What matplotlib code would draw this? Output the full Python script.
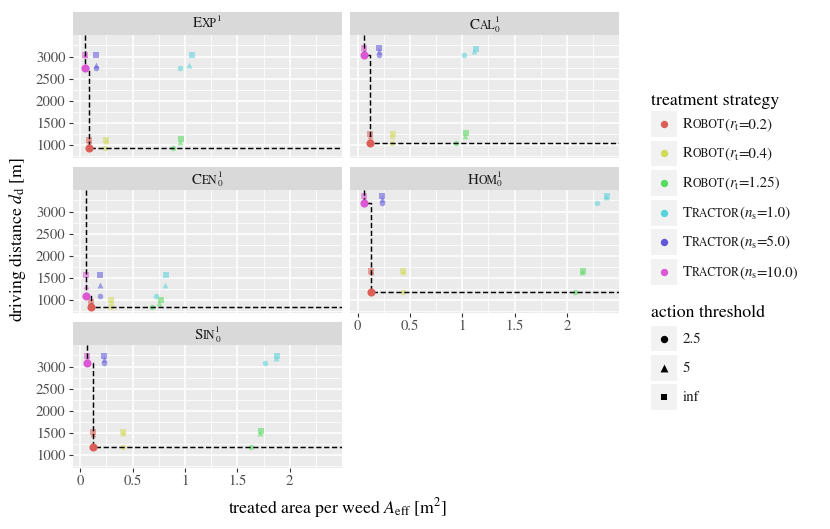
import numpy as np
import matplotlib.pyplot as plt
from matplotlib import font_manager as fm
from matplotlib.ft2font import FT2Font
from matplotlib.patches import Rectangle

plt.rcParams['font.family'] = 'STIXGeneral'
plt.rcParams['mathtext.fontset'] = 'stix'

# Data: treated area per weed (x) and driving distance (y)
# rows: Robot 0.2, Robot 0.4, Robot 1.25, Tractor 1.0, Tractor 5.0, Tractor 10.0
# cols: action threshold 2.5, 5, inf
area_exp = [[0.082, 0.082, 0.082], [0.238, 0.245, 0.248], [0.886, 0.956, 0.966],
            [0.956, 1.042, 1.070], [0.147, 0.147, 0.147], [0.044, 0.044, 0.044]]
dist_exp = [[946, 1100, 1120], [946, 1090, 1120], [946, 1082, 1135],
            [2738, 2813, 3038], [2738, 2813, 3038], [2738, 3030, 3038]]

area_cal = [[0.117, 0.117, 0.117], [0.330, 0.333, 0.335], [0.939, 1.022, 1.038],
            [1.012, 1.110, 1.127], [0.200, 0.200, 0.200], [0.057, 0.057, 0.057]]
dist_cal = [[1059, 1200, 1248], [1059, 1200, 1248], [1059, 1217, 1271],
            [3038, 3135, 3173], [3038, 3115, 3190], [3038, 3140, 3190]]

area_cen = [[0.105, 0.105, 0.105], [0.295, 0.295, 0.295], [0.689, 0.753, 0.772],
            [0.727, 0.810, 0.823], [0.184, 0.184, 0.184], [0.057, 0.057, 0.057]]
dist_cen = [[850, 930, 970], [850, 960, 1007], [850, 946, 1007],
            [1097, 1345, 1571], [1097, 1345, 1571], [1090, 1330, 1571]]

area_hom = [[0.124, 0.124, 0.124], [0.429, 0.429, 0.429], [2.076, 2.140, 2.149],
            [2.289, 2.371, 2.380], [0.229, 0.229, 0.229], [0.063, 0.063, 0.063]]
dist_hom = [[1194, 1640, 1662], [1194, 1640, 1662], [1194, 1640, 1662],
            [3203, 3323, 3361], [3203, 3278, 3354], [3203, 3300, 3354]]

area_sin = [[0.120, 0.120, 0.120], [0.406, 0.410, 0.410], [1.627, 1.712, 1.725],
            [1.766, 1.865, 1.881], [0.222, 0.222, 0.222], [0.060, 0.060, 0.060]]
dist_sin = [[1186, 1480, 1530], [1186, 1500, 1530], [1186, 1493, 1537],
            [3090, 3201, 3246], [3090, 3170, 3246], [3090, 3200, 3246]]

# strategy labels: (capital, small caps, symbol, subscript, value)
strategy_labels = [('R', 'OBOT', 'r', 't', '0.2'), ('R', 'OBOT', 'r', 't', '0.4'),
                   ('R', 'OBOT', 'r', 't', '1.25'), ('T', 'RACTOR', 'n', 's', '1.0'),
                   ('T', 'RACTOR', 'n', 's', '5.0'), ('T', 'RACTOR', 'n', 's', '10.0')]
threshold_labels = ['2.5', '5', 'inf']
colors = ['#db5f57', '#d3db57', '#57db5f', '#57d3db', '#5f57db', '#db57d3']
markers = ['o', '^', 's']
msizes = [16, 18, 14]

W, H = 830, 529
fig = plt.figure(figsize=(W / 100, H / 100), dpi=100)

# panels: (capital, small caps, has subscript, x, y, left, top, x labels, y labels)
panels = [
    ('E', 'XP', False, area_exp, dist_exp, 72.7, 35, False, True),
    ('C', 'AL', True, area_cal, dist_cal, 350, 35, False, False),
    ('C', 'EN', True, area_cen, dist_cen, 72.7, 190, False, True),
    ('H', 'OM', True, area_hom, dist_hom, 350, 190, True, False),
    ('S', 'IN', True, area_sin, dist_sin, 72.7, 345, True, True),
]
pw, ph, sh = 269, 122.5, 23

all_x = np.concatenate([np.ravel(p[3]) for p in panels])
all_y = np.concatenate([np.ravel(p[4]) for p in panels])
dx = all_x.max() - all_x.min()
dy = all_y.max() - all_y.min()
xlim = (all_x.min() - 0.05 * dx, all_x.max() + 0.05 * dx)
ylim = (all_y.min() - 0.05 * dy, all_y.max() + 0.05 * dy)

overlay = fig.add_axes([0, 0, 1, 1], zorder=10)
overlay.set_xlim(0, W)
overlay.set_ylim(H, 0)
overlay.axis('off')

font_paths = {
    'normal': fm.findfont(fm.FontProperties(family='STIXGeneral')),
    'italic': fm.findfont(fm.FontProperties(family='STIXGeneral', style='italic')),
}


def advance(s, size, style):
    f = FT2Font(font_paths[style], hinting_factor=8)
    f.set_size(size, 100)
    return sum(f.load_char(ord(c)).linearHoriAdvance for c in s) / 65536


def rich_text(x, y, parts, ha='left', color='#1a1a1a'):
    # parts: (text, size, raise_px, style, advances)
    total = sum(advance(s, fs, st) for s, fs, r, st, a in parts if a)
    pen = x - total / 2 if ha == 'center' else x
    for s, fs, r, st, a in parts:
        overlay.text(pen, y - r, s, fontsize=fs, style=st, va='baseline', ha='left', color=color)
        if a:
            pen += advance(s, fs, st)


small = 10.8
tick_size = 10.6
big = 12.8
scf = 0.78

for cap, rest, has_sub, area, dist, left, top, xlab, ylab in panels:
    ax = fig.add_axes([left / W, 1 - (top + ph) / H, pw / W, ph / H])
    ax.set_facecolor('#EBEBEB')
    for s in ax.spines.values():
        s.set_visible(False)
    ax.set_xlim(xlim)
    ax.set_ylim(ylim)
    ax.set_xticks([0, 0.5, 1, 1.5, 2])
    ax.set_xticklabels(['0', '0.5', '1', '1.5', '2'])
    ax.set_xticks([0.25, 0.75, 1.25, 1.75, 2.25], minor=True)
    ax.set_yticks([1000, 1500, 2000, 2500, 3000])
    ax.set_yticks([750, 1250, 1750, 2250, 2750, 3250], minor=True)
    ax.grid(which='major', color='white', lw=1.1)
    ax.grid(which='minor', color='white', lw=0.55)
    ax.set_axisbelow(True)
    ax.tick_params(which='major', length=3, width=0.8, color='#333333',
                   labelcolor='#4D4D4D', labelsize=tick_size, pad=2.2)
    ax.tick_params(which='minor', length=0)
    ax.tick_params(bottom=xlab, labelbottom=xlab, left=ylab, labelleft=ylab)

    pts = []
    for i in range(6):
        for j in range(3):
            ax.scatter(area[i][j], dist[i][j], marker=markers[j], s=msizes[j],
                       color=colors[i], alpha=0.55, linewidths=0, zorder=2)
            pts.append((area[i][j], dist[i][j], i, j))

    # pareto front as step line
    pts.sort(key=lambda p: (p[0], p[1]))
    front = []
    best = np.inf
    for p in pts:
        if p[1] < best:
            front.append(p)
            best = p[1]
    xs, ys = [], []
    prev = ylim[1]
    for p in front:
        xs += [p[0], p[0]]
        ys += [prev, p[1]]
        prev = p[1]
    xs.append(xlim[1])
    ys.append(prev)
    ax.plot(xs, ys, color='black', lw=1.05, linestyle=(0, (3.6, 1.8)), zorder=3)
    for p in front:
        ax.scatter(p[0], p[1], marker=markers[p[3]], s=34, color=colors[p[2]],
                   linewidths=0, zorder=4)

    # strip
    overlay.add_patch(Rectangle((left, top - sh), pw, sh, color='#D9D9D9', lw=0))
    base = top - sh + (16.7 if has_sub else 14.8)
    parts = [(cap, small, 0, 'normal', True), (rest, small * scf, 0, 'normal', True)]
    if has_sub:
        parts += [('1', small * 0.62, 6.4, 'normal', False), ('0', small * 0.62, -2.8, 'normal', True)]
    else:
        parts += [('1', small * 0.62, 6.0, 'normal', True)]
    rich_text(left + pw / 2, base, parts, ha='center')

# axis titles
fig.text(337 / W, 1 - 513 / H, r'treated area per weed $A_\mathrm{eff}$ [m$^2$]',
         fontsize=big, ha='center', va='baseline', color='black')
fig.text(18 / W, 1 - 240 / H, r'driving distance $d_\mathrm{d}$ [m]',
         fontsize=big, ha='center', va='center', rotation=90, color='black')

# legend
lx, kw = 651, 25.7
overlay.text(lx, 105, 'treatment strategy', fontsize=big, va='baseline')
for i, (cap, rest, sym, sub, val) in enumerate(strategy_labels):
    kt = 111 + i * 29.6
    overlay.add_patch(Rectangle((lx, kt), kw, kw, color='#F2F2F2', lw=0))
    overlay.scatter(lx + kw / 2, kt + kw / 2, s=28, color=colors[i], linewidths=0)
    rich_text(682.5, kt + kw / 2 + 4, [
        (cap, small, 0, 'normal', True), (rest, small * scf, 0, 'normal', True),
        ('(', small, 0, 'normal', True), (sym, small, 0, 'italic', True),
        (sub, small * 0.68, -2.2, 'normal', True), ('=' + val + ')', small, 0, 'normal', True)])

overlay.text(lx, 317.3, 'action threshold', fontsize=big, va='baseline')
for j, lab in enumerate(threshold_labels):
    kt = 325.7 + j * 29.3
    overlay.add_patch(Rectangle((lx, kt), kw, kw, color='#F2F2F2', lw=0))
    overlay.scatter(lx + kw / 2, kt + kw / 2, s=[28, 32, 24][j], marker=markers[j],
                    color='black', linewidths=0)
    overlay.text(682.5, kt + kw / 2 + 4, lab, fontsize=small, va='baseline', color='#1a1a1a')

fig.savefig('out.png', dpi=100)
